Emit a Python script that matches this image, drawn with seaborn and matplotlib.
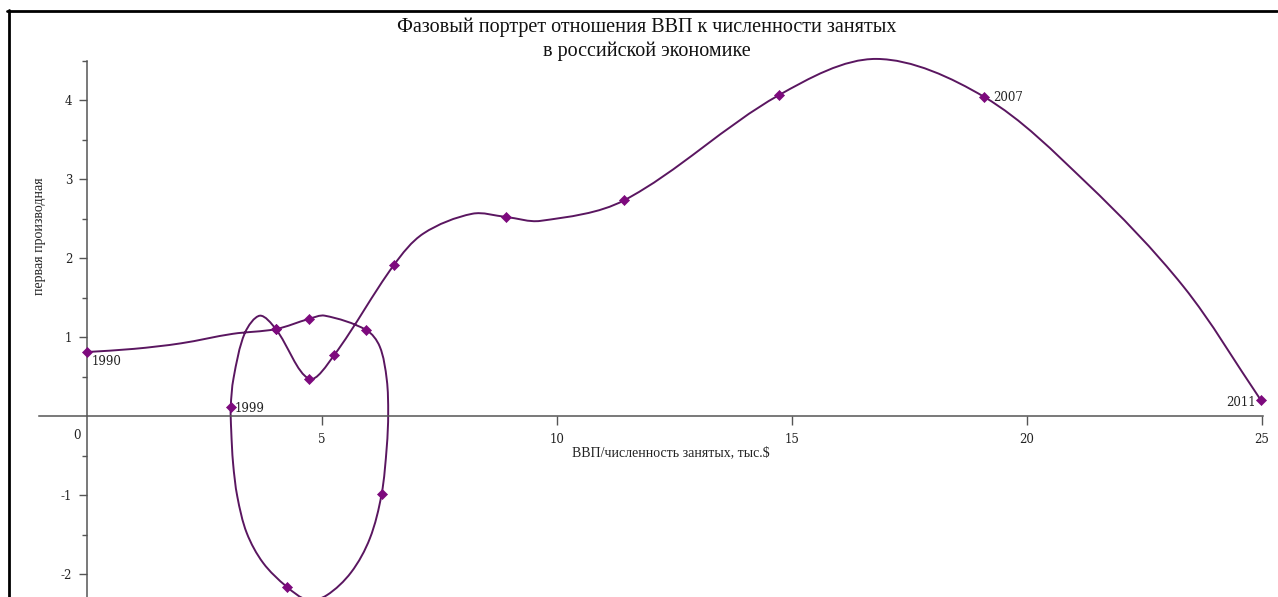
import numpy as np
import matplotlib
matplotlib.use("Agg")
import matplotlib.pyplot as plt
import seaborn as sns
from matplotlib.path import Path
from matplotlib.patches import PathPatch
from matplotlib.lines import Line2D

# --- chart text -------------------------------------------------------------
title_text = "Фазовый портрет отношения ВВП к численности занятых\nв российской экономике"
x_label = "ВВП/численность занятых, тыс.$"
y_label = "первая производная"

# --- phase trajectory, in time order (x: GDP per employed, y: first derivative)
traj_x = [0.00, 1.00, 2.00, 3.10, 4.02, 4.73, 5.06, 5.94, 6.23, 6.38, 6.41,
          6.38, 6.27, 6.02, 5.62, 5.10, 4.70, 4.25, 3.75, 3.40, 3.20, 3.11,
          3.07, 3.06, 3.12, 3.36, 3.68, 4.02, 4.73, 5.26, 6.53, 7.16, 8.20,
          8.91, 9.65, 11.43, 14.72, 16.80, 19.09, 21.27, 23.33, 24.98]
traj_y = [0.81, 0.85, 0.92, 1.04, 1.10, 1.23, 1.27, 1.09, 0.88, 0.46, 0.03,
          -0.39, -0.99, -1.55, -1.98, -2.27, -2.33, -2.16, -1.86, -1.48, -1.02, -0.60,
          -0.18, 0.11, 0.48, 1.05, 1.27, 1.10, 0.47, 0.77, 1.91, 2.31, 2.56,
          2.52, 2.47, 2.73, 4.06, 4.52, 4.04, 2.95, 1.64, 0.20]

# observations marked on the trajectory (indices into the arrays above)
marker_idx = [0, 4, 5, 7, 12, 17, 23, 27, 28, 29, 30, 33, 35, 36, 38, 41]

# year captions: index on trajectory, text, offset (points), alignment
year_idx = [0, 23, 38, 41]
year_text = ["1990", "1999", "2007", "2011"]
year_offset = [(3.5, -7.0), (3.0, -1.0), (6.5, -0.8), (-3.5, -1.5)]
year_ha = ["left", "left", "left", "right"]

x_ticks = [5, 10, 15, 20, 25]
y_ticks = [-2, -1, 1, 2, 3, 4]
y_minor = [-1.5, -0.5, 0.5, 1.5, 2.5, 3.5, 4.5]

LINE_COLOR = "#5a1660"
MARK_COLOR = "#7d0a7d"
AXIS_COLOR = "#555555"
TEXT_COLOR = "#222222"

sns.set_style("ticks")
plt.rcParams["font.family"] = ["DejaVu Serif"]
plt.rcParams["axes.unicode_minus"] = False

W, H = 1278, 597
fig = plt.figure(figsize=(W / 100, H / 100), dpi=100)
ax = fig.add_axes([39 / W, 0.0, 1228 / W, (H - 52.6) / H])
ax.set_xlim(-1.02, 25.11)
ax.set_ylim(-2.291, 4.6)
ax.patch.set_alpha(0)


def smooth_path(axes, xs, ys):
    """Cubic Bezier path through the points (chord-length Catmull-Rom tangents)."""
    pts = axes.transData.transform(np.column_stack([xs, ys]))
    n = len(pts)
    d = np.linalg.norm(np.diff(pts, axis=0), axis=1)
    tang = np.zeros_like(pts)
    tang[0] = (pts[1] - pts[0]) / d[0]
    tang[-1] = (pts[-1] - pts[-2]) / d[-1]
    for i in range(1, n - 1):
        tang[i] = (pts[i + 1] - pts[i - 1]) / (d[i - 1] + d[i])
    verts = [pts[0]]
    codes = [Path.MOVETO]
    for i in range(n - 1):
        verts += [pts[i] + tang[i] * d[i] / 3,
                  pts[i + 1] - tang[i + 1] * d[i] / 3,
                  pts[i + 1]]
        codes += [Path.CURVE4] * 3
    verts = axes.transData.inverted().transform(np.array(verts))
    return Path(verts, codes)


ax.add_patch(PathPatch(smooth_path(ax, traj_x, traj_y), fill=False,
                       edgecolor=LINE_COLOR, lw=1.4, zorder=2))

mx = [traj_x[i] for i in marker_idx]
my = [traj_y[i] for i in marker_idx]
sns.scatterplot(x=mx, y=my, ax=ax, marker="D", s=26, color=MARK_COLOR,
                edgecolor=MARK_COLOR, linewidth=0.5, zorder=3, legend=False)

for i, txt, off, ha in zip(year_idx, year_text, year_offset, year_ha):
    ax.annotate(txt, (traj_x[i], traj_y[i]), xytext=off, textcoords="offset points",
                ha=ha, va="center", fontsize=8.5, color=TEXT_COLOR)

# axes crossing at the origin
for side in ("top", "right"):
    ax.spines[side].set_visible(False)
ax.spines["left"].set_position(("data", 0))
ax.spines["bottom"].set_position(("data", 0))
ax.spines["left"].set_bounds(-2.291, 4.5)
ax.spines["bottom"].set_bounds(-1.02, 25.02)
for side in ("left", "bottom"):
    ax.spines[side].set_color(AXIS_COLOR)
    ax.spines[side].set_linewidth(1.1)

ax.set_xticks(x_ticks)
ax.set_yticks(y_ticks)
ax.set_yticks(y_minor, minor=True)
ax.tick_params(bottom=True, left=True, top=False, right=False)
ax.tick_params(axis="x", which="minor", bottom=False)
ax.tick_params(axis="x", which="major", direction="out", length=6.5, width=1.0,
               color=AXIS_COLOR, pad=6, labelsize=8.5, labelcolor=TEXT_COLOR)
ax.tick_params(axis="y", which="major", direction="out", length=5.5, width=1.0,
               color=AXIS_COLOR, pad=5, labelsize=8.5, labelcolor=TEXT_COLOR)
ax.tick_params(axis="y", which="minor", left=True, direction="out", length=3.5,
               width=1.0, color=AXIS_COLOR)
ax.annotate("0", (0, 0), xytext=(-7.5, -14.0), textcoords="offset points",
            ha="center", va="center", fontsize=8.5, color=TEXT_COLOR)

ax.set_xlabel(x_label, family="Liberation Serif", fontsize=10, color=TEXT_COLOR)
ax.xaxis.set_label_coords((671 - 39) / 1228, (H - 453) / (H - 52.6))
ax.xaxis.label.set_va("center")
ax.set_ylabel(y_label, family="Liberation Serif", fontsize=10, color=TEXT_COLOR)
ax.yaxis.set_label_coords((40 - 39) / 1228, (H - 236) / (H - 52.6))
ax.yaxis.label.set_va("center")

fig.suptitle(title_text, x=647 / W, y=1 - 39.5 / H, va="center", ha="center",
             family="Liberation Serif", fontsize=14.5, linespacing=1.28,
             color="#111111")

# frame lines along the top and left edges of the picture
fig.add_artist(Line2D([7 / W, 1277 / W], [1 - 11 / H, 1 - 11 / H], color="black",
                      lw=2.0, transform=fig.transFigure))
fig.add_artist(Line2D([8.5 / W, 8.5 / W], [0, 1 - 10 / H], color="black",
                      lw=2.0, transform=fig.transFigure))

fig.savefig("out.png", dpi=100)
